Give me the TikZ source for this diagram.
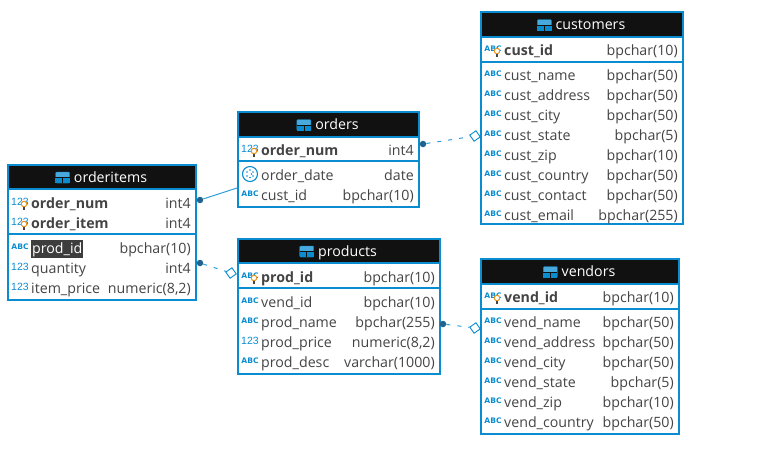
\documentclass[tikz,border=0pt]{standalone}
\usepackage{fontspec}
\setmainfont{Open Sans}
\newfontfamily\iconfont{DejaVu Sans}
\newfontfamily\numfont{Liberation Sans}
\definecolor{frameblue}{HTML}{0A8CD0}
\definecolor{headblack}{HTML}{111111}
\definecolor{coltext}{HTML}{444444}
\definecolor{dotblue}{HTML}{22638E}
\definecolor{bulborange}{HTML}{E8931E}
\tikzset{
    tableframe/.style={draw=frameblue, line width=2.4pt, inner sep=0pt, outer sep=0pt},
    headfill/.style={fill=headblack, inner sep=0pt, outer sep=0pt},
    sepline/.style={draw=frameblue, line width=1.3pt},
    titletext/.style={text=white, font=\fontsize{14.2}{16}\selectfont, inner sep=0pt, anchor=base},
    colplain/.style={text=coltext, font=\fontsize{14.2}{16}\selectfont, inner sep=0pt, anchor=base west},
    colkey/.style={colplain, font=\fontsize{14.2}{16}\selectfont\bfseries},
    colsel/.style={colplain, text=white, fill=coltext!90!black, inner xsep=1pt, inner ysep=2pt},
    coltype/.style={text=coltext, font=\fontsize{14.2}{16}\selectfont, inner sep=0pt, anchor=base east},
    abcicon/.style={text=frameblue, inner sep=0pt, font=\iconfont\bfseries\fontsize{7.6}{8}\selectfont, node contents={ABC}},
    numicon/.style={text=frameblue, inner sep=0pt, font=\numfont\fontsize{10.5}{10}\selectfont, node contents={123}},
    dateicon/.style={circle, draw=frameblue, line width=1.1pt, minimum size=15pt, inner sep=0pt, node contents={},
        path picture={\foreach \dx/\dy in {-3/-2,0/-4,3/-2,-3/2,0/3.5,3/2,1.5/0} \fill [frameblue] (path picture bounding box.center) ++(\dx,\dy) circle (0.9pt) ;}},
    keybulb/.style={circle, draw=bulborange, fill=white, line width=1pt, minimum size=5.5pt, inner sep=0pt},
    keystem/.style={draw=coltext, line width=1.2pt},
    tabicon/.style={rounded corners=1pt, fill=frameblue!75!white, draw=frameblue, minimum width=14pt, minimum height=11pt, inner sep=0pt},
    linkdot/.style={circle, fill=dotblue, minimum size=6.5pt, inner sep=0pt},
    linkend/.style={draw=frameblue, fill=white, line width=0.9pt, minimum size=7.5pt, inner sep=0pt, rotate=35},
    link/.style={draw=frameblue!85!white, line width=1pt},
    linkdash/.style={link, dash pattern=on 4pt off 7pt},
}
% name, left, top, right, bottom, header bottom, separator, title
\newcommand{\tablebox}[8]{
    \pgfmathsetmacro{\boxw}{#4-#2}
    \pgfmathsetmacro{\boxh}{#5-#3}
    \pgfmathsetmacro{\headh}{#6-#3}
    \pgfmathsetmacro{\boxcx}{(#2+#4)/2}
    \pgfmathsetmacro{\boxcy}{(#3+#5)/2}
    \node [headfill, anchor=north, minimum width=\boxw pt, minimum height=\headh pt] (#1-head) at (\boxcx,#3) {} ;
    \node [tableframe, minimum width=\boxw pt, minimum height=\boxh pt] (#1) at (\boxcx,\boxcy) {} ;
    \draw [sepline] (#2,#6) -- (#4,#6) ;
    \draw [sepline] (#2,#7) -- (#4,#7) ;
    \node [titletext] (#1-title) at ([xshift=8.5pt, yshift=-5pt] #1-head.center) {#8} ;
    \node [tabicon, anchor=east] (#1-icon) at ([xshift=-4pt, yshift=4.5pt] #1-title.base west) {} ;
    \fill [frameblue] (#1-icon.west) rectangle (#1-icon.south east) ;
    \draw [headblack, line width=0.7pt] (#1-icon.west) -- (#1-icon.east) ;
    \draw [headblack, line width=0.7pt] (#1-icon.center) -- (#1-icon.south) ;
}
% name, left, right, rows
\newcommand{\tablerows}[4]{
    \foreach \yy/\ic/\st/\nm/\ty [count=\i] in {#4} {
        \node (#1-ic\i) [\ic, at={(#2+12,\yy-1)}] ;
        \node [\st] (#1-nm\i) at (#2+23,\yy+5) {\nm} ;
        \node [coltype] (#1-ty\i) at (#3-5,\yy+5) {\ty} ;
    }
}
\begin{document}
\begin{tikzpicture}[x=1pt, y=-1pt]
    \useasboundingbox (0,0) rectangle (777,467) ;

    \tablebox{orderitems}{8}{165}{196}{300}{189}{234}{orderitems}
    \tablerows{orderitems}{8}{196}{
        203/numicon/colkey/order\_num/int4,
        223/numicon/colkey/order\_item/int4,
        248/abcicon/colsel/prod\_id/bpchar(10),
        268/numicon/colplain/quantity/int4,
        288/numicon/colplain/item\_price/{numeric(8,2)}}

    \tablebox{orders}{238}{112}{419}{207}{137}{161}{orders}
    \tablerows{orders}{238}{419}{
        150/numicon/colkey/order\_num/int4,
        175/dateicon/colplain/order\_date/date,
        195/abcicon/colplain/cust\_id/bpchar(10)}

    \tablebox{products}{238}{239}{440}{374}{263}{288}{products}
    \tablerows{products}{238}{440}{
        277/abcicon/colkey/prod\_id/bpchar(10),
        302/abcicon/colplain/vend\_id/bpchar(10),
        322/abcicon/colplain/prod\_name/bpchar(255),
        342/numicon/colplain/prod\_price/{numeric(8,2)},
        362/abcicon/colplain/prod\_desc/varchar(1000)}

    \tablebox{customers}{481}{12}{683}{224}{37}{62}{customers}
    \tablerows{customers}{481}{683}{
        50/abcicon/colkey/cust\_id/bpchar(10),
        75/abcicon/colplain/cust\_name/bpchar(50),
        95/abcicon/colplain/cust\_address/bpchar(50),
        115/abcicon/colplain/cust\_city/bpchar(50),
        135/abcicon/colplain/cust\_state/bpchar(5),
        155/abcicon/colplain/cust\_zip/bpchar(10),
        175/abcicon/colplain/cust\_country/bpchar(50),
        195/abcicon/colplain/cust\_contact/bpchar(50),
        215/abcicon/colplain/cust\_email/bpchar(255)}

    \tablebox{vendors}{481}{259}{679}{434}{284}{309}{vendors}
    \tablerows{vendors}{481}{679}{
        297/abcicon/colkey/vend\_id/bpchar(10),
        322/abcicon/colplain/vend\_name/bpchar(50),
        342/abcicon/colplain/vend\_address/bpchar(50),
        362/abcicon/colplain/vend\_city/bpchar(50),
        382/abcicon/colplain/vend\_state/bpchar(5),
        402/abcicon/colplain/vend\_zip/bpchar(10),
        422/abcicon/colplain/vend\_country/bpchar(50)}

    \foreach \bx/\by [count=\i] in {24/204, 24/224, 254/151, 254/278, 497/51, 497/298} {
        \node [keybulb] (bulb\i) at (\bx,\by) {} ;
        \draw [keystem] (bulb\i.south) -- ++(0,2.5) ;
    }

    \node [linkdot] (itemdot) at (200,200) {} ;
    \coordinate (orderfoot) at (237,188) ;
    \draw [link] (itemdot) -- (orderfoot) ;

    \node [linkdot] (proddot) at (200,263) {} ;
    \node [linkend] (prodend) at (231,273) {} ;
    \draw [linkdash] (proddot) -- (prodend) ;

    \node [linkdot] (custdot) at (423,144) {} ;
    \node [linkend] (custend) at (475,136) {} ;
    \draw [linkdash] (custdot) -- (custend) ;

    \node [linkdot] (venddot) at (443,324) {} ;
    \node [linkend] (vendend) at (475,328) {} ;
    \draw [linkdash] (venddot) -- (vendend) ;
\end{tikzpicture}
\end{document}
